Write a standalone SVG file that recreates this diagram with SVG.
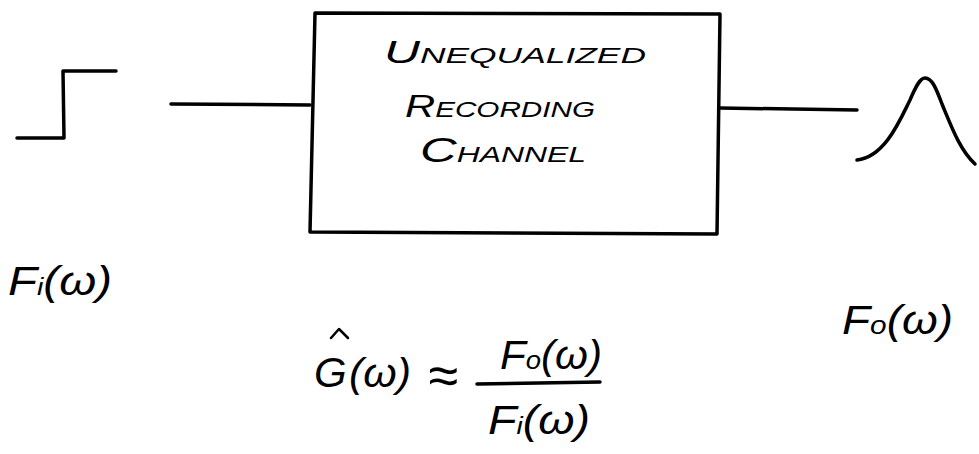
<svg xmlns="http://www.w3.org/2000/svg" width="979" height="454" viewBox="0 0 979 454">
<style>
.ln{fill:none;stroke:#000;stroke-width:3.5;stroke-linecap:round;stroke-linejoin:round}
.t{font-family:"Liberation Sans",Arial,sans-serif;font-style:italic;fill:#000}
</style>
<rect width="979" height="454" fill="#fff"/>
<g id="input-step">
<path class="ln" d="M17,138 L64,138 L63,71 L116,71"/>
</g>
<g id="channel">
<path class="ln" d="M315,13 L720,14 L717,234 L310,232 Z"/>
<text class="t" x="384" y="63" font-size="22" textLength="262" lengthAdjust="spacingAndGlyphs"><tspan font-size="31">U</tspan>NEQUALIZED</text>
<text class="t" x="405" y="117" font-size="22" textLength="190" lengthAdjust="spacingAndGlyphs"><tspan font-size="31">R</tspan>ECORDING</text>
<text class="t" x="420" y="162" font-size="22" textLength="166" lengthAdjust="spacingAndGlyphs"><tspan font-size="35">C</tspan>HANNEL</text>
</g>
<g id="output-pulse">
<path class="ln" d="M857,160 C885,157 900,120 910,100 C916,86 920,78 925,78 C932,78 936,88 942,104 C952,128 960,150 975,164"/>
</g>
<g id="connectors">
<path class="ln" d="M171,104 L310,105"/>
<path class="ln" d="M720,108 L857,110"/>
</g>
<g id="labels">
<text class="t" x="8" y="295" font-size="40" textLength="104" lengthAdjust="spacingAndGlyphs">F<tspan font-size="24">i</tspan>(ω)</text>
<text class="t" x="842" y="334" font-size="40" textLength="111" lengthAdjust="spacingAndGlyphs">F<tspan font-size="26">o</tspan>(ω)</text>
</g>
<g id="formula">
<text class="t" x="314" y="387" font-size="42">G</text>
<path class="ln" d="M331,338 L339,329 L348,338" style="stroke-width:2.5"/>
<text class="t" x="349" y="387" font-size="40" textLength="62" lengthAdjust="spacingAndGlyphs">(ω)</text>
<text class="t" x="428" y="394" font-size="54">≈</text>
<path class="ln" d="M477,384 L600,382"/>
<text class="t" x="500" y="369" font-size="40" textLength="102" lengthAdjust="spacingAndGlyphs">F<tspan font-size="26">o</tspan>(ω)</text>
<text class="t" x="488" y="434" font-size="40" textLength="102" lengthAdjust="spacingAndGlyphs">F<tspan font-size="24">i</tspan>(ω)</text>
</g>
</svg>
